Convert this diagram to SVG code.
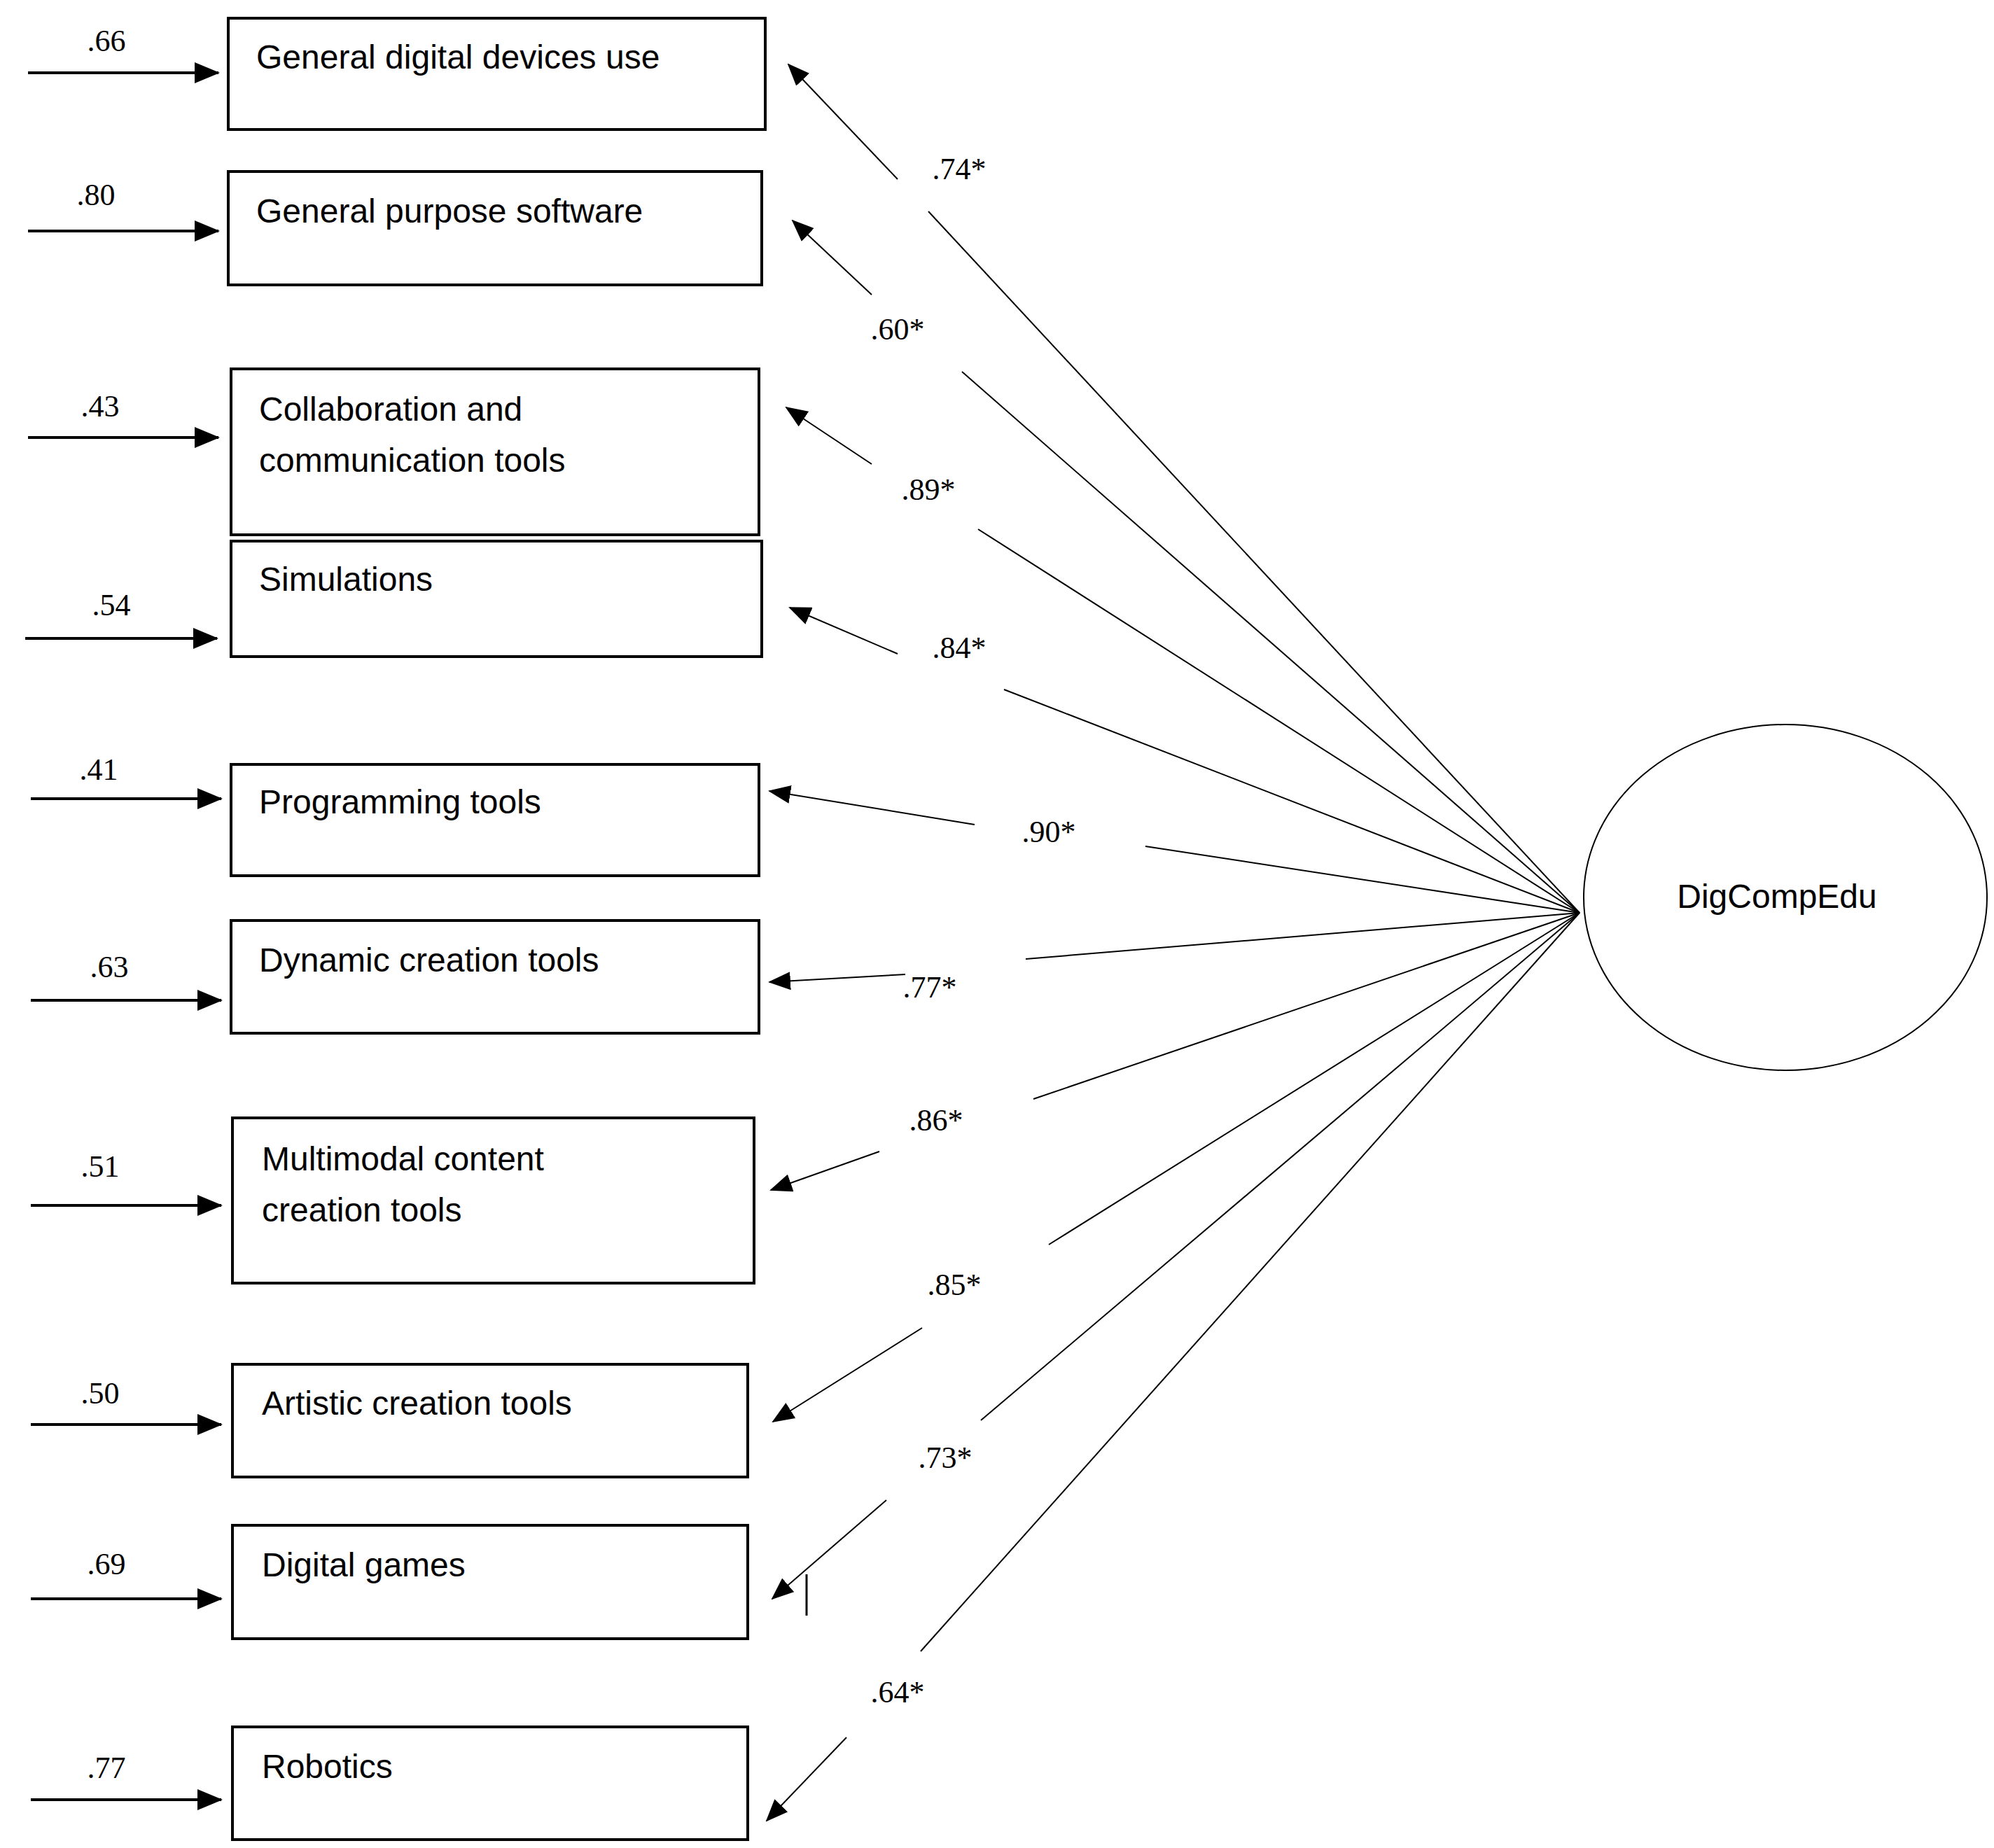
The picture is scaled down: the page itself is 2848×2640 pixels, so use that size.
<svg xmlns="http://www.w3.org/2000/svg" width="2848" height="2640" viewBox="0 0 2848 2640">
<style>
.box{fill:#fff;stroke:#000;stroke-width:4}
.lbl{font-family:"Liberation Sans",Arial,sans-serif;font-size:48px;fill:#000}
.num{font-family:"Liberation Serif","Times New Roman",serif;font-size:44px;fill:#000}
.ln{stroke:#000;stroke-width:2;fill:none}
.la{stroke:#000;stroke-width:4;fill:none}
</style>
<defs>
<marker id="ah" markerUnits="userSpaceOnUse" markerWidth="36" markerHeight="30" refX="34" refY="15" orient="auto"><path d="M0,0 L36,15 L0,30 Z" fill="#000"/></marker>
<marker id="ah2" markerUnits="userSpaceOnUse" markerWidth="32" markerHeight="26" refX="30" refY="13" orient="auto"><path d="M0,0 L32,13 L0,26 Z" fill="#000"/></marker>
</defs>
<rect width="2848" height="2640" fill="#fff"/>
<g id="n1"><rect class="box" x="326" y="26" width="767" height="159"/><text class="lbl" x="366" y="98">General digital devices use</text></g>
<g id="n2"><rect class="box" x="326" y="245" width="762" height="162"/><text class="lbl" x="366" y="318">General purpose software</text></g>
<g id="n3"><rect class="box" x="330" y="527" width="754" height="237"/><text class="lbl" x="370" y="601">Collaboration and</text><text class="lbl" x="370" y="674">communication tools</text></g>
<g id="n4"><rect class="box" x="330" y="773" width="758" height="165"/><text class="lbl" x="370" y="844">Simulations</text></g>
<g id="n5"><rect class="box" x="330" y="1092" width="754" height="159"/><text class="lbl" x="370" y="1162">Programming tools</text></g>
<g id="n6"><rect class="box" x="330" y="1315" width="754" height="161"/><text class="lbl" x="370" y="1388">Dynamic creation tools</text></g>
<g id="n7"><rect class="box" x="332" y="1597" width="745" height="236"/><text class="lbl" x="374" y="1672">Multimodal content</text><text class="lbl" x="374" y="1745">creation tools</text></g>
<g id="n8"><rect class="box" x="332" y="1949" width="736" height="161"/><text class="lbl" x="374" y="2021">Artistic creation tools</text></g>
<g id="n9"><rect class="box" x="332" y="2179" width="736" height="162"/><text class="lbl" x="374" y="2252">Digital games</text></g>
<g id="n10"><rect class="box" x="332" y="2467" width="736" height="161"/><text class="lbl" x="374" y="2540">Robotics</text></g>
<g id="latent"><ellipse cx="2550" cy="1282" rx="288" ry="247" fill="#fff" stroke="#000" stroke-width="2"/><text class="lbl" x="2538" y="1297" text-anchor="middle">DigCompEdu</text></g>
<g id="connectors">
<line class="la" x1="40" y1="104" x2="312" y2="104" marker-end="url(#ah)"/>
<line class="la" x1="40" y1="330" x2="312" y2="330" marker-end="url(#ah)"/>
<line class="la" x1="40" y1="625" x2="312" y2="625" marker-end="url(#ah)"/>
<line class="la" x1="36" y1="912" x2="310" y2="912" marker-end="url(#ah)"/>
<line class="la" x1="44" y1="1141" x2="316" y2="1141" marker-end="url(#ah)"/>
<line class="la" x1="44" y1="1429" x2="316" y2="1429" marker-end="url(#ah)"/>
<line class="la" x1="44" y1="1722" x2="316" y2="1722" marker-end="url(#ah)"/>
<line class="la" x1="44" y1="2035" x2="316" y2="2035" marker-end="url(#ah)"/>
<line class="la" x1="44" y1="2284" x2="316" y2="2284" marker-end="url(#ah)"/>
<line class="la" x1="44" y1="2571" x2="316" y2="2571" marker-end="url(#ah)"/>
<line class="ln" x1="1282" y1="256" x2="1126" y2="92" marker-end="url(#ah2)"/><line class="ln" x1="1326" y1="302" x2="2256" y2="1304"/>
<line class="ln" x1="1245" y1="421" x2="1132" y2="315" marker-end="url(#ah2)"/><line class="ln" x1="1374" y1="531" x2="2256" y2="1304"/>
<line class="ln" x1="1245" y1="663" x2="1123" y2="582" marker-end="url(#ah2)"/><line class="ln" x1="1397" y1="756" x2="2256" y2="1304"/>
<line class="ln" x1="1282" y1="934" x2="1128" y2="868" marker-end="url(#ah2)"/><line class="ln" x1="1434" y1="985" x2="2256" y2="1304"/>
<line class="ln" x1="1392" y1="1178" x2="1099" y2="1130" marker-end="url(#ah2)"/><line class="ln" x1="1636" y1="1209" x2="2256" y2="1304"/>
<line class="ln" x1="1293" y1="1392" x2="1099" y2="1403" marker-end="url(#ah2)"/><line class="ln" x1="1465" y1="1370" x2="2256" y2="1304"/>
<line class="ln" x1="1256" y1="1645" x2="1101" y2="1700" marker-end="url(#ah2)"/><line class="ln" x1="1476" y1="1570" x2="2256" y2="1304"/>
<line class="ln" x1="1317" y1="1897" x2="1104" y2="2031" marker-end="url(#ah2)"/><line class="ln" x1="1498" y1="1778" x2="2256" y2="1304"/>
<line class="ln" x1="1266" y1="2143" x2="1103" y2="2284" marker-end="url(#ah2)"/><line class="ln" x1="1401" y1="2029" x2="2256" y2="1304"/>
<line class="ln" x1="1209" y1="2482" x2="1095" y2="2601" marker-end="url(#ah2)"/><line class="ln" x1="1315" y1="2359" x2="2256" y2="1304"/>
<line x1="1152" y1="2249" x2="1152" y2="2308" stroke="#000" stroke-width="3"/>
</g>
<g id="labels">
<text class="num" x="152" y="73" text-anchor="middle">.66</text>
<text class="num" x="137" y="293" text-anchor="middle">.80</text>
<text class="num" x="143" y="595" text-anchor="middle">.43</text>
<text class="num" x="159" y="879" text-anchor="middle">.54</text>
<text class="num" x="141" y="1114" text-anchor="middle">.41</text>
<text class="num" x="156" y="1396" text-anchor="middle">.63</text>
<text class="num" x="143" y="1681" text-anchor="middle">.51</text>
<text class="num" x="143" y="2005" text-anchor="middle">.50</text>
<text class="num" x="152" y="2249" text-anchor="middle">.69</text>
<text class="num" x="152" y="2540" text-anchor="middle">.77</text>
<text class="num" x="1370" y="256" text-anchor="middle">.74*</text>
<text class="num" x="1282" y="485" text-anchor="middle">.60*</text>
<text class="num" x="1326" y="714" text-anchor="middle">.89*</text>
<text class="num" x="1370" y="940" text-anchor="middle">.84*</text>
<text class="num" x="1498" y="1203" text-anchor="middle">.90*</text>
<text class="num" x="1328" y="1425" text-anchor="middle">.77*</text>
<text class="num" x="1337" y="1615" text-anchor="middle">.86*</text>
<text class="num" x="1363" y="1850" text-anchor="middle">.85*</text>
<text class="num" x="1350" y="2097" text-anchor="middle">.73*</text>
<text class="num" x="1282" y="2432" text-anchor="middle">.64*</text>
</g>
</svg>
